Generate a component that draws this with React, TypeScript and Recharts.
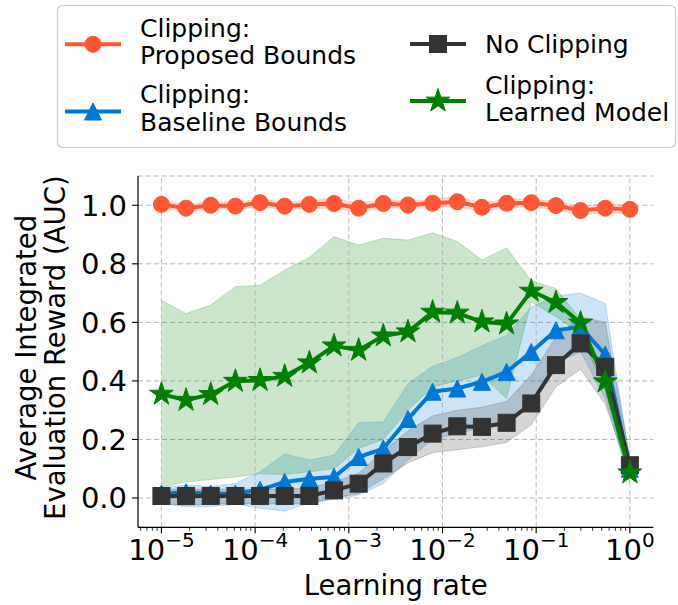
import React from "react";
import {
  ComposedChart,
  Line,
  Area,
  XAxis,
  YAxis,
  CartesianGrid,
  ReferenceLine,
  Legend,
} from "recharts";

const FONT = "DejaVu Sans, sans-serif";

// learning rates (20 points, log spaced)
const learningRates = [
  1e-5, 1.833e-5, 3.36e-5, 6.158e-5, 1.129e-4, 2.069e-4, 3.793e-4, 6.952e-4,
  1.274e-3, 2.336e-3, 4.281e-3, 7.848e-3, 1.438e-2, 2.637e-2, 4.833e-2,
  8.859e-2, 0.1624, 0.2976, 0.5456, 1.0,
];

// Clipping: Proposed Bounds
const proposedMean = [1.003, 0.99, 1.0, 0.997, 1.009, 0.997, 1.003, 1.006, 0.99, 1.006, 1.001, 1.007, 1.012, 0.993, 1.007, 1.009, 0.999, 0.982, 0.99, 0.986];
const proposedLow = [0.99, 0.978, 0.988, 0.985, 0.995, 0.985, 0.99, 0.99, 0.975, 0.993, 0.988, 0.993, 0.995, 0.978, 0.993, 0.995, 0.985, 0.968, 0.975, 0.972];
const proposedHigh = [1.015, 1.003, 1.013, 1.01, 1.022, 1.01, 1.016, 1.025, 1.006, 1.02, 1.015, 1.021, 1.03, 1.008, 1.021, 1.022, 1.013, 0.997, 1.005, 1.0];

// Clipping: Baseline Bounds
const baselineMean = [0.015, 0.02, 0.015, 0.015, 0.028, 0.055, 0.066, 0.072, 0.14, 0.169, 0.27, 0.363, 0.374, 0.397, 0.431, 0.499, 0.573, 0.585, 0.49, 0.1];
const baselineLow = [-0.02, -0.03, -0.03, -0.02, -0.035, -0.045, -0.015, -0.005, 0.01, 0.05, 0.13, 0.2, 0.22, 0.24, 0.26, 0.33, 0.46, 0.5, 0.34, 0.05];
const baselineHigh = [0.035, 0.045, 0.04, 0.05, 0.09, 0.15, 0.13, 0.146, 0.257, 0.26, 0.39, 0.45, 0.48, 0.52, 0.556, 0.653, 0.69, 0.7, 0.665, 0.13];

// No Clipping
const noClipMean = [0.007, 0.007, 0.007, 0.007, 0.007, 0.007, 0.007, 0.026, 0.049, 0.118, 0.174, 0.22, 0.245, 0.243, 0.257, 0.323, 0.454, 0.528, 0.448, 0.112];
const noClipLow = [-0.02, -0.025, -0.02, -0.02, -0.02, -0.02, -0.02, 0.0, 0.015, 0.065, 0.12, 0.155, 0.165, 0.175, 0.19, 0.25, 0.38, 0.44, 0.32, 0.08];
const noClipHigh = [0.03, 0.03, 0.03, 0.03, 0.03, 0.03, 0.035, 0.055, 0.085, 0.16, 0.23, 0.28, 0.3, 0.31, 0.33, 0.42, 0.55, 0.62, 0.6, 0.14];

// Clipping: Learned Model
const learnedMean = [0.355, 0.334, 0.354, 0.399, 0.402, 0.416, 0.462, 0.52, 0.505, 0.554, 0.568, 0.635, 0.632, 0.602, 0.595, 0.707, 0.668, 0.598, 0.397, 0.086];
const learnedLow = [0.038, 0.055, 0.063, 0.072, 0.083, 0.08, 0.09, 0.1, 0.17, 0.2, 0.3, 0.38, 0.4, 0.42, 0.34, 0.67, 0.62, 0.56, 0.37, 0.05];
const learnedHigh = [0.676, 0.63, 0.659, 0.722, 0.727, 0.779, 0.822, 0.893, 0.864, 0.887, 0.881, 0.906, 0.876, 0.813, 0.855, 0.742, 0.716, 0.61, 0.42, 0.11];

const majorTicks = [1e-5, 1e-4, 1e-3, 1e-2, 1e-1, 1];
const minorTicks = [
  6e-6, 7e-6, 8e-6, 9e-6,
  2e-5, 3e-5, 4e-5, 5e-5, 6e-5, 7e-5, 8e-5, 9e-5,
  2e-4, 3e-4, 4e-4, 5e-4, 6e-4, 7e-4, 8e-4, 9e-4,
  2e-3, 3e-3, 4e-3, 5e-3, 6e-3, 7e-3, 8e-3, 9e-3,
  2e-2, 3e-2, 4e-2, 5e-2, 6e-2, 7e-2, 8e-2, 9e-2,
  2e-1, 3e-1, 4e-1, 5e-1, 6e-1, 7e-1, 8e-1, 9e-1,
];
const yTicks = [0, 0.2, 0.4, 0.6, 0.8, 1.0];

const COLORS = {
  proposed: "#FF5733",
  baseline: "#0078D7",
  none: "#333333",
  learned: "#008000",
};

const rows = learningRates.map((lr, i) => ({
  lr,
  proposed: proposedMean[i],
  proposedBand: [proposedLow[i], proposedHigh[i]],
  baseline: baselineMean[i],
  baselineBand: [baselineLow[i], baselineHigh[i]],
  none: noClipMean[i],
  noneBand: [noClipLow[i], noClipHigh[i]],
  learned: learnedMean[i],
  learnedBand: [learnedLow[i], learnedHigh[i]],
}));

// marker shapes
const circle = (cx: number, cy: number, color: string, key?: any) => (
  <circle key={key} cx={cx} cy={cy} r={8} fill={color} stroke={color} strokeWidth={1} />
);
const triangle = (cx: number, cy: number, color: string, key?: any) => (
  <polygon
    key={key}
    points={`${cx},${cy - 8.5} ${cx - 8.5},${cy + 8.5} ${cx + 8.5},${cy + 8.5}`}
    fill={color}
    stroke={color}
    strokeWidth={1}
  />
);
const square = (cx: number, cy: number, color: string, key?: any) => (
  <rect key={key} x={cx - 8.5} y={cy - 8.5} width={17} height={17} fill={color} stroke={color} strokeWidth={1} />
);
const star = (cx: number, cy: number, color: string, key?: any) => {
  const R = 12.5;
  const r = R * 0.381966;
  const pts: string[] = [];
  for (let k = 0; k < 10; k++) {
    const a = (-90 + k * 36) * (Math.PI / 180);
    const rad = k % 2 === 0 ? R : r;
    pts.push(`${cx + rad * Math.cos(a)},${cy + rad * Math.sin(a)}`);
  }
  return <polygon key={key} points={pts.join(" ")} fill={color} stroke={color} strokeWidth={1} />;
};

const makeDot = (shape: any, color: string) => (p: any) => {
  if (p.cx == null || p.cy == null) return <g key={p.index} />;
  return shape(p.cx, p.cy, color, `dot-${p.index}`);
};

const XTick = (props: any) => {
  const { x, y, payload } = props;
  const v = payload.value;
  const lg = Math.log10(v);
  const exp = Math.round(lg);
  const major = Math.abs(lg - exp) < 1e-6;
  return (
    <g>
      <line x1={x} x2={x} y1={y} y2={y + (major ? 6 : 3.5)} stroke="#000" strokeWidth={major ? 1.1 : 0.8} />
      {major && (
        <text x={x} y={y + 33} textAnchor="middle" fontSize={29} fill="#000" fontFamily={FONT}>
          10
          <tspan dy={-13} fontSize={20}>
            {exp === 0 ? "0" : "\u2212" + Math.abs(exp)}
          </tspan>
        </text>
      )}
    </g>
  );
};

const XLabel = (props: any) => {
  const vb = props.viewBox;
  return (
    <text x={vb.x + vb.width / 2} y={vb.y + 68} textAnchor="middle" fontSize={27.5} fill="#000" fontFamily={FONT}>
      Learning rate
    </text>
  );
};

const YLabel = (props: any) => {
  const vb = props.viewBox;
  const cy = vb.y + vb.height / 2 - 4;
  return (
    <g>
      <text x={36} y={cy} transform={`rotate(-90, 36, ${cy})`} textAnchor="middle" fontSize={27.5} fill="#000" fontFamily={FONT}>
        Average Integrated
      </text>
      <text x={65.5} y={cy} transform={`rotate(-90, 65.5, ${cy})`} textAnchor="middle" fontSize={27.5} fill="#000" fontFamily={FONT}>
        Evaluation Reward (AUC)
      </text>
    </g>
  );
};

const legendItems = [
  { color: COLORS.proposed, shape: circle, lx: 65, y: 44.3, lines: ["Clipping:", "Proposed Bounds"], base: [36.7, 64.3] },
  { color: COLORS.baseline, shape: triangle, lx: 65, y: 111.5, lines: ["Clipping:", "Baseline Bounds"], base: [102.5, 130.5] },
  { color: COLORS.none, shape: square, lx: 410, y: 44, lines: ["No Clipping"], base: [53] },
  { color: COLORS.learned, shape: star, lx: 410, y: 101, lines: ["Clipping:", "Learned Model"], base: [93.5, 121] },
];

const renderLegend = () => (
  <svg width={678} height={152} style={{ display: "block" }}>
    <rect x={57.5} y={5.5} width={618} height={142} rx={5} fill="#fff" fillOpacity={0.8} stroke="#cccccc" strokeWidth={1.2} />
    {legendItems.map((it, i) => (
      <g key={i}>
        <line x1={it.lx} x2={it.lx + 56} y1={it.y} y2={it.y} stroke={it.color} strokeWidth={4} />
        {it.shape(it.lx + 28, it.y, it.color)}
        {it.lines.map((t, j) => (
          <text key={j} x={it.lx + 75} y={it.base[j]} fontSize={25} fill="#000" fontFamily={FONT}>
            {t}
          </text>
        ))}
      </g>
    ))}
  </svg>
);

export default function App() {
  return (
    <div style={{ position: "absolute", left: 0, top: 0, width: 678, height: 605, background: "#fff" }}>
      <ComposedChart
        width={678}
        height={605}
        data={rows}
        margin={{ top: 176, right: 24.7, bottom: 17.7, left: 68 }}
      >
        <CartesianGrid vertical={false} stroke="#b8b8b8" strokeDasharray="5 3" strokeWidth={1} />
        {majorTicks.map((v) => (
          <ReferenceLine key={v} x={v} stroke="#b8b8b8" strokeDasharray="5 3" strokeWidth={1} />
        ))}
        <XAxis
          dataKey="lr"
          type="number"
          scale="log"
          domain={[Math.pow(10, -5.25), Math.pow(10, 0.25)]}
          allowDataOverflow
          ticks={[...minorTicks, ...majorTicks].sort((a, b) => a - b)}
          interval={0}
          tick={(p: any) => <XTick {...p} />}
          tickLine={false}
          tickSize={0}
          tickMargin={0}
          axisLine={{ stroke: "#000", strokeWidth: 1.2 }}
          height={60}
          label={(p: any) => <XLabel {...p} />}
        />
        <XAxis xAxisId="top" orientation="top" type="number" domain={[0, 1]} height={0} tick={false} tickLine={false} axisLine={{ stroke: "#000", strokeWidth: 1.2 }} />
        <YAxis
          type="number"
          domain={[-0.1, 1.1]}
          allowDataOverflow
          ticks={yTicks}
          interval={0}
          tickFormatter={(v: number) => v.toFixed(1)}
          tick={{ fontSize: 29, fill: "#000", fontFamily: FONT }}
          tickSize={6}
          tickMargin={5}
          tickLine={{ stroke: "#000", strokeWidth: 1.1 }}
          axisLine={{ stroke: "#000", strokeWidth: 1.2 }}
          width={70}
          label={(p: any) => <YLabel {...p} />}
        />
        <YAxis yAxisId="right" orientation="right" type="number" domain={[0, 1]} width={0} tick={false} tickLine={false} axisLine={{ stroke: "#000", strokeWidth: 1.2 }} />

        <Area dataKey="proposedBand" type="linear" fill={COLORS.proposed} fillOpacity={0.2} stroke={COLORS.proposed} strokeOpacity={0.2} strokeWidth={1} isAnimationActive={false} />
        <Area dataKey="baselineBand" type="linear" fill={COLORS.baseline} fillOpacity={0.2} stroke={COLORS.baseline} strokeOpacity={0.2} strokeWidth={1} isAnimationActive={false} />
        <Area dataKey="noneBand" type="linear" fill={COLORS.none} fillOpacity={0.2} stroke={COLORS.none} strokeOpacity={0.2} strokeWidth={1} isAnimationActive={false} />
        <Area dataKey="learnedBand" type="linear" fill={COLORS.learned} fillOpacity={0.2} stroke={COLORS.learned} strokeOpacity={0.2} strokeWidth={1} isAnimationActive={false} />

        <Line dataKey="proposed" type="linear" stroke={COLORS.proposed} strokeWidth={4} dot={makeDot(circle, COLORS.proposed)} activeDot={false} isAnimationActive={false} />
        <Line dataKey="baseline" type="linear" stroke={COLORS.baseline} strokeWidth={4} dot={makeDot(triangle, COLORS.baseline)} activeDot={false} isAnimationActive={false} />
        <Line dataKey="none" type="linear" stroke={COLORS.none} strokeWidth={4} dot={makeDot(square, COLORS.none)} activeDot={false} isAnimationActive={false} />
        <Line dataKey="learned" type="linear" stroke={COLORS.learned} strokeWidth={4} dot={makeDot(star, COLORS.learned)} activeDot={false} isAnimationActive={false} />

        <Legend
          layout="horizontal"
          verticalAlign="middle"
          align="center"
          content={renderLegend}
          wrapperStyle={{ position: "absolute", top: 0, left: 0, width: 678, height: 152 }}
        />
      </ComposedChart>
    </div>
  );
}
